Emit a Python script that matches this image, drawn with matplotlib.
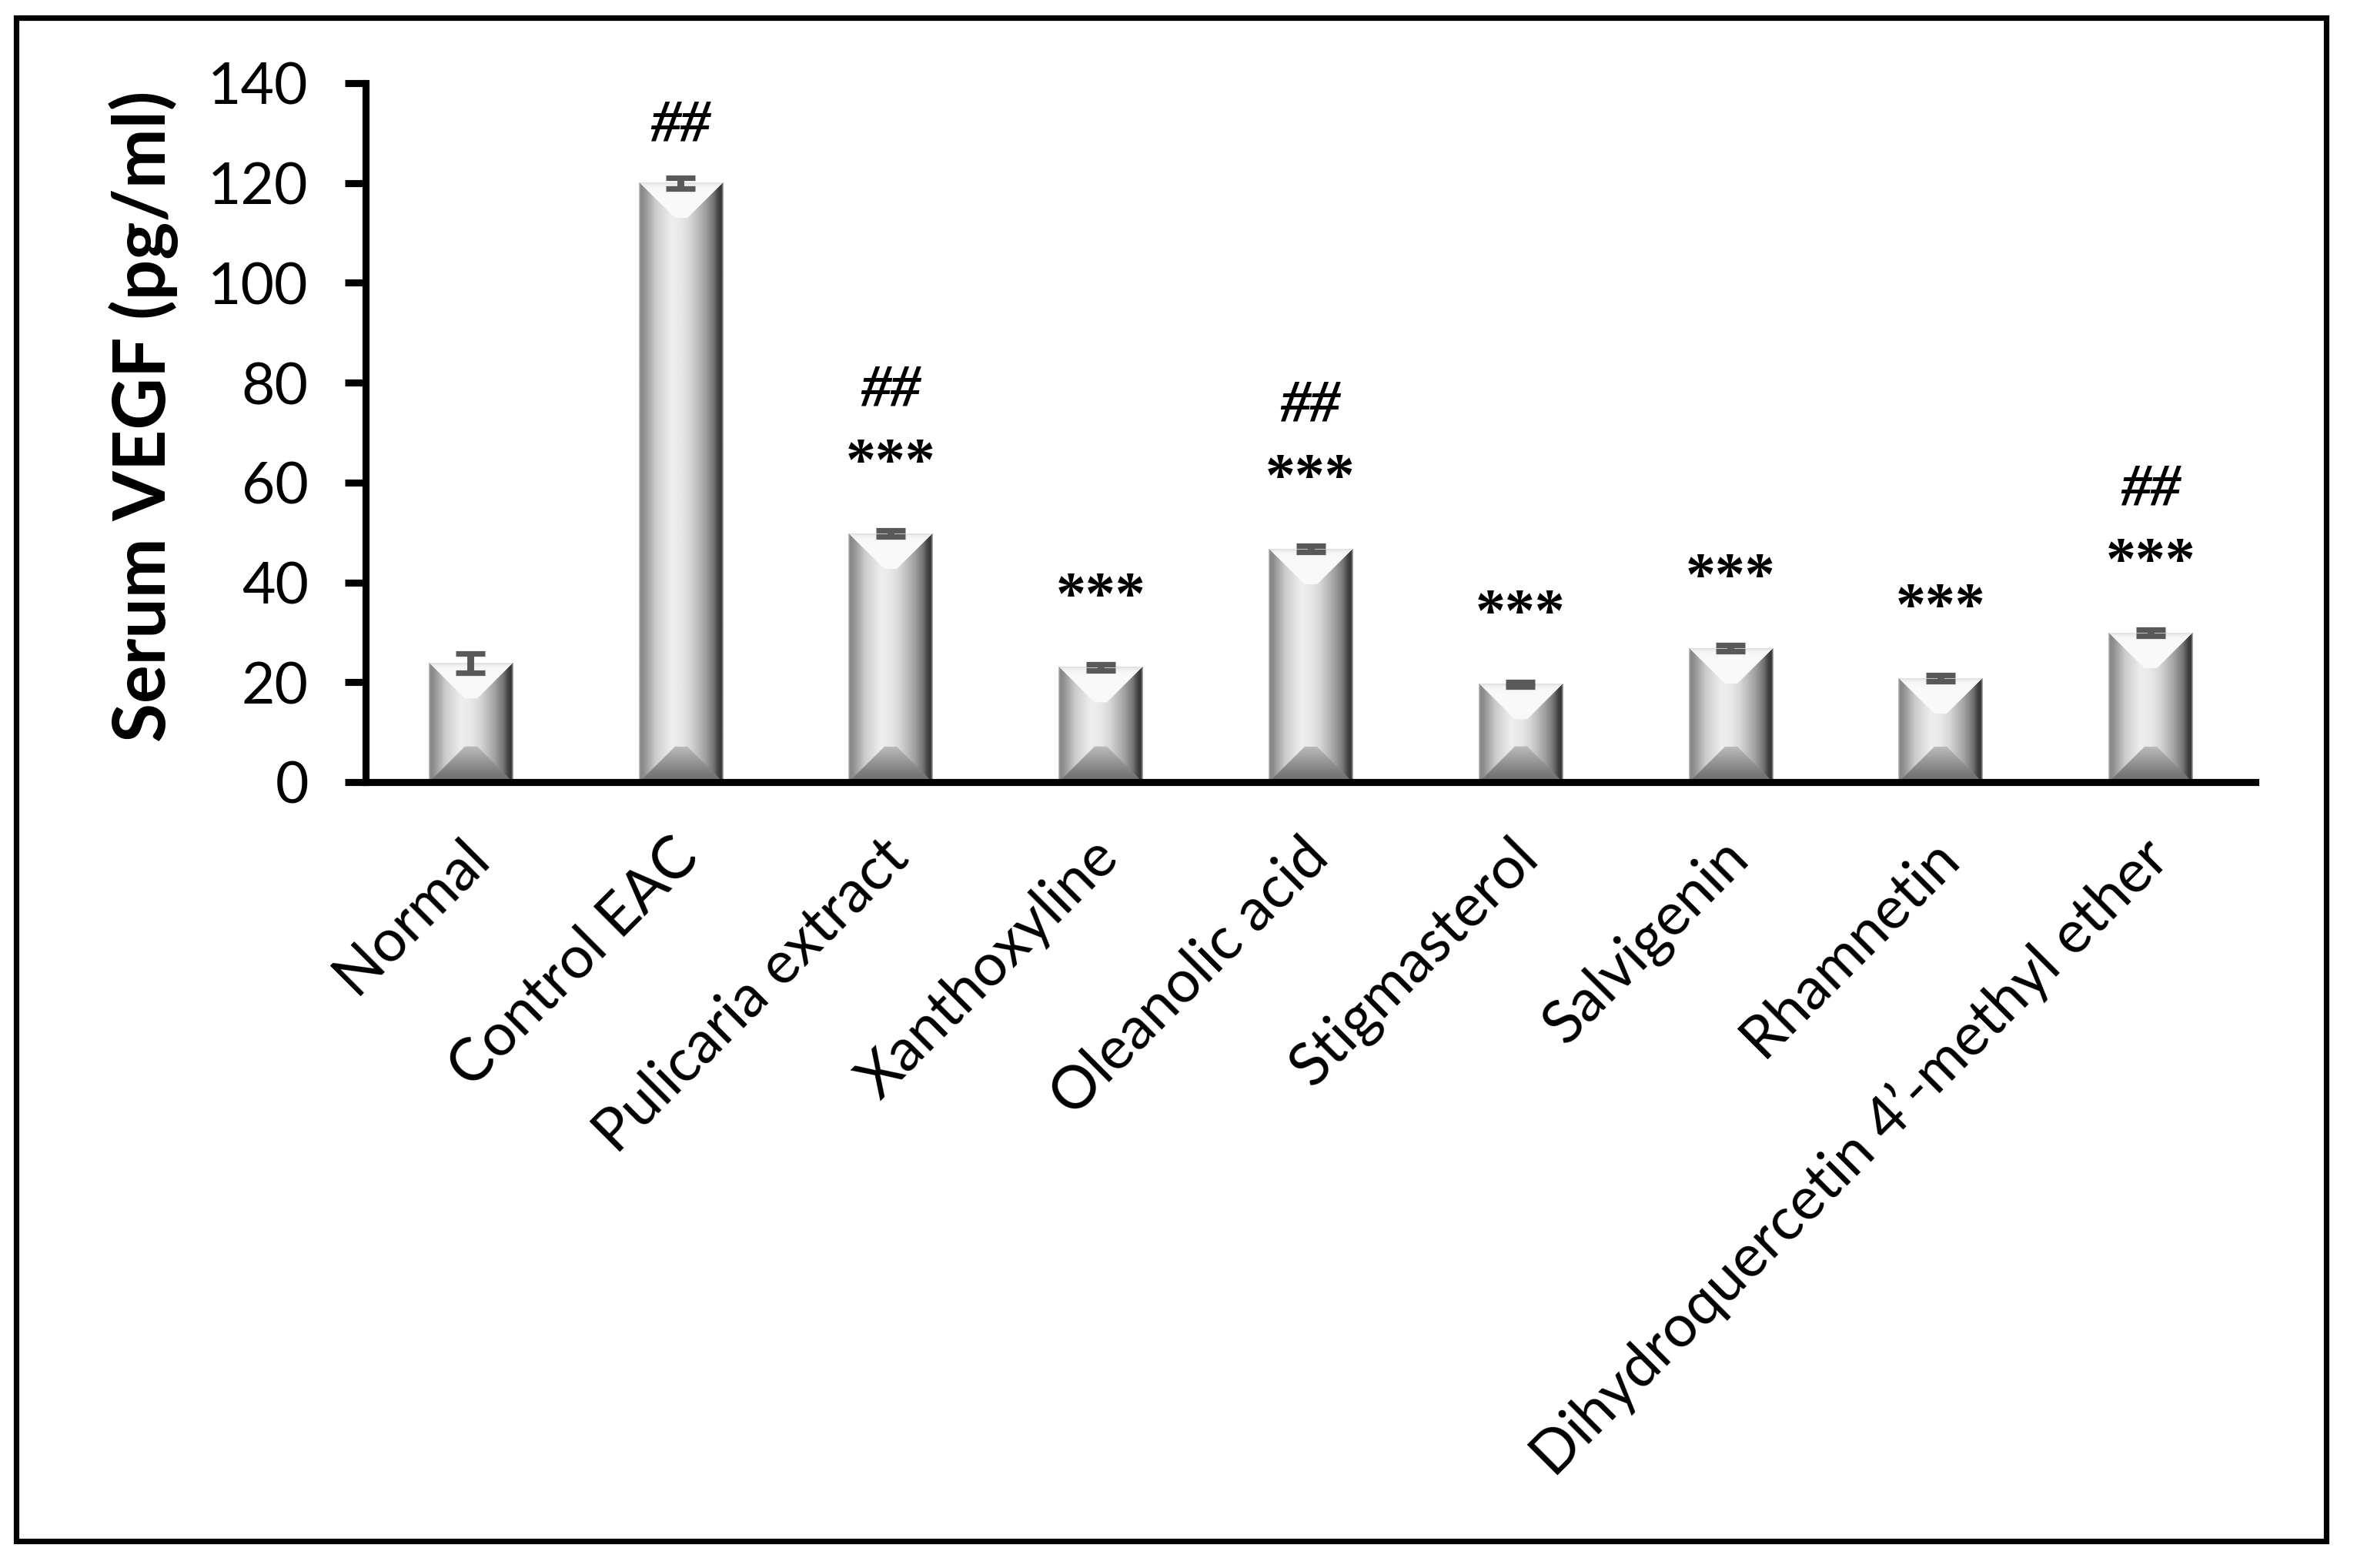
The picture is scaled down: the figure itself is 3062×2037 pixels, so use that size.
import numpy as np
import matplotlib
matplotlib.use('Agg')
import matplotlib.pyplot as plt
from matplotlib.patches import Rectangle
from matplotlib.transforms import ScaledTranslation

categories = ['Normal', 'Control EAC', 'Pulicaria extract', 'Xanthoxyline',
              'Oleanolic acid', 'Stigmasterol', 'Salvigenin', 'Rhamnetin',
              'Dihydroquercetin 4\u2019-methyl ether']
means = [23.8, 120.0, 49.8, 23.0, 46.7, 19.6, 26.8, 20.8, 29.9]
errors = [1.9, 1.1, 0.6, 0.6, 0.6, 0.5, 0.6, 0.6, 0.6]
hash_marks = ['', '##', '##', '', '##', '', '', '', '##']
star_marks = ['', '', '***', '***', '***', '***', '***', '***', '***']
yticks = [0, 20, 40, 60, 80, 100, 120, 140]
ylabel = 'Serum VEGF (pg/ml)'

W_PX, H_PX, DPI = 3062, 2037, 200
fig = plt.figure(figsize=(W_PX / DPI, H_PX / DPI), dpi=DPI)
ax = fig.add_axes([475 / W_PX, 1 - 1016 / H_PX, (2930 - 475) / W_PX, (1016 - 108) / H_PX])

x = np.arange(len(categories))
bar_w = 0.40
ax.set_xlim(-0.5, len(categories) - 0.5)
ax.set_ylim(0, 140)

bars = ax.bar(x, means, bar_w, color='none', edgecolor='none', zorder=2)


def bar_image(wpx, hpx):
    W = max(int(round(wpx)), 2)
    H = max(int(round(hpx)), 2)
    cols = (np.arange(W) + 0.5) / W
    ku = [0, 0.02, 0.06, 0.2, 0.38, 0.5, 0.62, 0.78, 0.88, 0.94, 0.975, 1]
    kv = [0.80, 0.53, 0.56, 0.80, 0.93, 0.91, 0.83, 0.63, 0.46, 0.26, 0.21, 0.75]
    prof = np.interp(cols, ku, kv)
    img = np.tile(prof, (H, 1))
    D = min(0.42 * W, H / 2.0)
    c = np.arange(W) + 0.5
    r = np.arange(H) + 0.5
    C, R = np.meshgrid(c, r)
    side = np.minimum(C, W - C)
    RB = H - R
    top = R < np.minimum(side, D)
    topval = 0.975 - 0.12 * np.exp(-R / 3.0)
    img[top] = topval[top]
    bot = RB < np.minimum(side, D)
    botval = 0.40 + 0.33 * (RB / max(D, 1)) + 0.25 * np.exp(-RB / 2.0)
    img[bot] = np.clip(botval[bot], 0, 1)
    return img


fig.canvas.draw()
for b in bars:
    x0, y0 = b.get_x(), b.get_y()
    w, h = b.get_width(), b.get_height()
    p0 = ax.transData.transform((x0, y0))
    p1 = ax.transData.transform((x0 + w, y0 + h))
    img = bar_image(p1[0] - p0[0], p1[1] - p0[1])
    ax.imshow(img, extent=(x0, x0 + w, y0, y0 + h), cmap='gray', vmin=0, vmax=1,
              aspect='auto', interpolation='bilinear', zorder=2, origin='upper')

ax.set_xlim(-0.5, len(categories) - 0.5)
ax.set_ylim(0, 140)

ax.errorbar(x, means, yerr=errors, fmt='none', ecolor='#595959', elinewidth=3.2,
            capsize=6.7, capthick=2.6, zorder=3)

mark_font = dict(ha='center', va='center', fontsize=28, family='Liberation Serif',
                 fontweight='bold', zorder=4)
for xi, m, hs, st in zip(x, means, hash_marks, star_marks):
    if st:
        ax.text(xi, m + 13.8, st, **mark_font)
        if hs:
            ax.text(xi, m + 28.6, hs, style='italic', **mark_font)
    elif hs:
        ax.text(xi, m + 11.3, hs, style='italic', **mark_font)

for s in ['top', 'right']:
    ax.spines[s].set_visible(False)
for s in ['left', 'bottom']:
    ax.spines[s].set_linewidth(3.3)
    ax.spines[s].set_color('black')
    ax.spines[s].set_zorder(5)

ax.set_yticks(yticks)
ax.set_yticklabels([str(v) for v in yticks], fontsize=27, family='Lato')
ax.tick_params(axis='y', direction='out', length=9.7, width=3.3, pad=17)
ax.set_xticks(x)
ax.set_xticklabels(categories, rotation=45, ha='right', rotation_mode='anchor',
                   fontsize=27.7, family='Lato')
ax.tick_params(axis='x', length=0, pad=22)
shift = ScaledTranslation(-14 / DPI, 0, fig.dpi_scale_trans)
for lab in ax.get_xticklabels():
    lab.set_transform(lab.get_transform() + shift)

ax.set_ylabel(ylabel, fontsize=33.5, family='Lato', fontweight='bold')
ax.yaxis.set_label_coords(-(475 - 232) / (2930 - 475), 0.523)

border = Rectangle((20.5 / W_PX, 1 - 2001.5 / H_PX), (3021.5 - 20.5) / W_PX,
                   (2001.5 - 22.5) / H_PX, transform=fig.transFigure,
                   fill=False, lw=2.6, edgecolor='black')
fig.patches.append(border)

fig.savefig('out.png', dpi=DPI, facecolor='white')
